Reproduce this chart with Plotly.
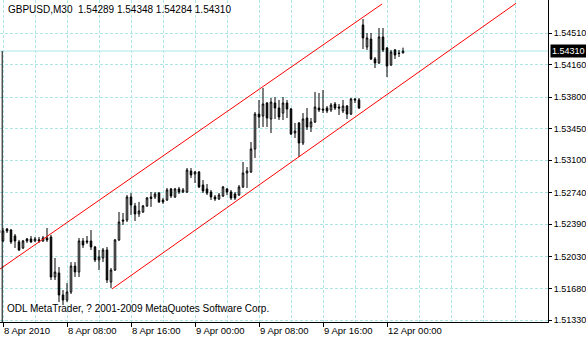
import plotly.graph_objects as go

# ---- data (bar index: 0 = 8 Apr 2010 00:00, M30 bars) ----
bar_index = list(range(-1, 101))
opens = [1.52294, 1.52206, 1.52338, 1.52327, 1.52261, 1.52195, 1.52128, 1.52228, 1.52228, 1.52206,
         1.52206, 1.52206, 1.52239, 1.52250, 1.51806, 1.51851, 1.51607, 1.51551, 1.51640, 1.51928,
         1.51862, 1.52206, 1.52206, 1.52206, 1.52139, 1.51995, 1.52017, 1.52106, 1.51751, 1.51884,
         1.52217, 1.52438, 1.52438, 1.52693, 1.52594, 1.52505, 1.52527, 1.52594, 1.52693, 1.52693,
         1.52737, 1.52660, 1.52660, 1.52782, 1.52693, 1.52782, 1.52748, 1.52748, 1.52981, 1.52948,
         1.52970, 1.52826, 1.52782, 1.52748, 1.52693, 1.52671, 1.52704, 1.52782, 1.52748, 1.52726,
         1.52715, 1.52804, 1.52959, 1.52970, 1.53225, 1.53612, 1.53590, 1.53734, 1.53557, 1.53734,
         1.53679, 1.53623, 1.53734, 1.53668, 1.53402, 1.53513, 1.53291, 1.53568, 1.53468, 1.53524,
         1.53679, 1.53668, 1.53679, 1.53657, 1.53723, 1.53690, 1.53646, 1.53701, 1.53612, 1.53779,
         1.53768, 1.54599, 1.54355, 1.54443, 1.54222, 1.54178, 1.54466, 1.54344, 1.54156, 1.54322,
         1.54288, 1.54289]
highs = [1.52349, 1.52349, 1.52349, 1.52338, 1.52283, 1.52217, 1.52217, 1.52239, 1.52261, 1.52250,
         1.52250, 1.52261, 1.52349, 1.52272, 1.52017, 1.51917, 1.51662, 1.51740, 1.51972, 1.51972,
         1.52239, 1.52239, 1.52261, 1.52327, 1.52150, 1.52106, 1.52128, 1.52139, 1.51906, 1.52228,
         1.52527, 1.52516, 1.52715, 1.52737, 1.52627, 1.52638, 1.52605, 1.52693, 1.52748, 1.52748,
         1.52748, 1.52682, 1.52793, 1.52793, 1.52793, 1.52804, 1.52793, 1.53014, 1.53014, 1.52981,
         1.52981, 1.52881, 1.52837, 1.52771, 1.52715, 1.52737, 1.52815, 1.52793, 1.52771, 1.52748,
         1.52826, 1.53081, 1.53025, 1.53302, 1.53635, 1.53768, 1.53901, 1.53745, 1.53790, 1.53801,
         1.53768, 1.53801, 1.53768, 1.53679, 1.53513, 1.53524, 1.53623, 1.53679, 1.53568, 1.53856,
         1.53845, 1.53878, 1.53701, 1.53734, 1.53745, 1.53723, 1.53768, 1.53712, 1.53790, 1.53790,
         1.53790, 1.54665, 1.54510, 1.54510, 1.54244, 1.54565, 1.54565, 1.54355, 1.54322, 1.54333,
         1.54322, 1.54348]
lows = [1.52261, 1.52195, 1.52294, 1.52173, 1.52128, 1.52095, 1.52117, 1.52184, 1.52184, 1.52195,
        1.52184, 1.52195, 1.52195, 1.51773, 1.51773, 1.51529, 1.51496, 1.51529, 1.51618, 1.51806,
        1.51806, 1.52128, 1.52173, 1.52106, 1.51972, 1.51884, 1.51972, 1.51740, 1.51685, 1.51873,
        1.52206, 1.52383, 1.52416, 1.52494, 1.52427, 1.52472, 1.52516, 1.52583, 1.52583, 1.52671,
        1.52627, 1.52616, 1.52649, 1.52682, 1.52682, 1.52726, 1.52737, 1.52737, 1.52903, 1.52848,
        1.52793, 1.52737, 1.52715, 1.52660, 1.52649, 1.52660, 1.52693, 1.52715, 1.52660, 1.52660,
        1.52704, 1.52793, 1.52793, 1.52959, 1.53125, 1.53457, 1.53468, 1.53468, 1.53402, 1.53557,
        1.53546, 1.53546, 1.53568, 1.53380, 1.53347, 1.53136, 1.53269, 1.53435, 1.53413, 1.53513,
        1.53635, 1.53623, 1.53623, 1.53635, 1.53657, 1.53601, 1.53623, 1.53557, 1.53601, 1.53734,
        1.53668, 1.54333, 1.54322, 1.54211, 1.54122, 1.54167, 1.54299, 1.54022, 1.54144, 1.54222,
        1.54244, 1.54284]
closes = [1.52327, 1.52316, 1.52316, 1.52195, 1.52206, 1.52106, 1.52206, 1.52206, 1.52195, 1.52228,
          1.52217, 1.52239, 1.52217, 1.51806, 1.51862, 1.51607, 1.51551, 1.51640, 1.51928, 1.51862,
          1.52206, 1.52161, 1.52195, 1.52139, 1.51995, 1.52028, 1.52106, 1.51773, 1.51884, 1.52217,
          1.52416, 1.52427, 1.52693, 1.52605, 1.52505, 1.52538, 1.52594, 1.52682, 1.52676, 1.52726,
          1.52638, 1.52638, 1.52771, 1.52704, 1.52782, 1.52748, 1.52771, 1.52992, 1.52937, 1.52970,
          1.52804, 1.52760, 1.52737, 1.52693, 1.52671, 1.52715, 1.52804, 1.52748, 1.52682, 1.52682,
          1.52804, 1.52959, 1.52981, 1.53225, 1.53612, 1.53579, 1.53723, 1.53568, 1.53745, 1.53679,
          1.53579, 1.53734, 1.53668, 1.53391, 1.53424, 1.53291, 1.53557, 1.53468, 1.53524, 1.53690,
          1.53657, 1.53657, 1.53646, 1.53712, 1.53679, 1.53679, 1.53701, 1.53612, 1.53779, 1.53768,
          1.53679, 1.54455, 1.54455, 1.54222, 1.54178, 1.54466, 1.54322, 1.54144, 1.54299, 1.54266,
          1.54283, 1.54310]

# time-axis labels (every 16 bars) and price-axis labels
time_tick_index = [0, 16, 32, 48, 64, 80, 96]
time_tick_text = ["8 Apr 2010", "8 Apr 08:00", "8 Apr 16:00", "9 Apr 00:00",
                  "9 Apr 08:00", "9 Apr 16:00", "12 Apr 00:00"]
price_ticks = [1.51330, 1.51680, 1.52030, 1.52390, 1.52740, 1.53100,
               1.53450, 1.53800, 1.54160, 1.54510]
price_tick_text = ["1.51330", "1.51680", "1.52030", "1.52390", "1.52740", "1.53100",
                   "1.53450", "1.53800", "1.54160", "1.54510"]

# equidistant channel lines (bar index, price)
channel_upper_index = [-0.75, 94.75]
channel_upper_price = [1.51895, 1.54831]
channel_lower_index = [27.25, 128.25]
channel_lower_price = [1.51674, 1.54839]

symbol = "GBPUSD,M30"
copyright_text = "ODL MetaTrader, ? 2001-2009 MetaQuotes Software Corp."

# ---- figure ----
GRID = "#aee6e6"
FONT = "Liberation Sans"
X_RANGE = [-0.75, 136.25]
Y_RANGE = [1.513078, 1.548756]

fig = go.Figure()

fig.add_trace(go.Candlestick(
    x=bar_index, open=opens, high=highs, low=lows, close=closes,
    increasing=dict(line=dict(color="black", width=1), fillcolor="white"),
    decreasing=dict(line=dict(color="black", width=1), fillcolor="black"),
    whiskerwidth=0, showlegend=False, hoverinfo="skip",
))

fig.add_trace(go.Scatter(x=channel_upper_index, y=channel_upper_price, mode="lines",
                         line=dict(color="red", width=1), showlegend=False, hoverinfo="skip"))
fig.add_trace(go.Scatter(x=channel_lower_index, y=channel_lower_price, mode="lines",
                         line=dict(color="red", width=1), showlegend=False, hoverinfo="skip"))

last_bid = closes[-1]

shapes = [
    # bid line
    dict(type="line", xref="paper", x0=0, x1=1, yref="y", y0=last_bid, y1=last_bid,
         line=dict(color=GRID, width=1), layer="below"),
    # left vertical separator
    dict(type="line", xref="x", x0=-0.2, x1=-0.2, yref="y", y0=Y_RANGE[0], y1=last_bid,
         line=dict(color="black", width=1)),
]

annotations = [
    dict(text=f"{symbol}  {opens[-1]:.5f} {highs[-1]:.5f} {lows[-1]:.5f} {closes[-1]:.5f}",
         xref="paper", yref="paper", x=6 / 548, y=1 - 2 / 322, xanchor="left", yanchor="top",
         showarrow=False, font=dict(family=FONT, size=10, color="black")),
    dict(text=copyright_text, xref="paper", yref="paper", x=5 / 548, y=14 / 322,
         xanchor="left", yanchor="middle", showarrow=False,
         font=dict(family=FONT, size=10, color="black")),
    dict(text=f"{last_bid:.5f}", xref="paper", yref="y", x=1 + 2 / 548, y=last_bid,
         xanchor="left", yanchor="middle", showarrow=False, bgcolor="black", borderpad=1,
         font=dict(family=FONT, size=9, color="white")),
]

fig.update_layout(
    width=586, height=340, autosize=False,
    margin=dict(l=0, r=38, t=0, b=18, pad=0),
    paper_bgcolor="white", plot_bgcolor="white",
    boxgap=0.45,
    showlegend=False,
    shapes=shapes, annotations=annotations,
    xaxis=dict(
        range=X_RANGE, rangeslider=dict(visible=False),
        tickmode="array", tickvals=time_tick_index, ticktext=time_tick_text,
        ticks="outside", ticklen=4, tickcolor="black", tickwidth=1,
        ticklabelposition="outside right",
        tickfont=dict(family=FONT, size=9.5, color="black"),
        showline=True, linecolor="black", linewidth=1, mirror=False,
        showgrid=True, gridcolor=GRID, griddash="3px,2px", gridwidth=1,
        minor=dict(tickmode="linear", tick0=0, dtick=8, showgrid=True, gridcolor=GRID,
                   griddash="3px,2px", ticks=""),
        zeroline=False, fixedrange=True, automargin=False,
    ),
    yaxis=dict(
        range=Y_RANGE, side="right",
        tickmode="array", tickvals=price_ticks, ticktext=price_tick_text,
        ticks="outside", ticklen=3, tickcolor="black", tickwidth=1,
        ticklabelstandoff=0,
        tickfont=dict(family=FONT, size=9, color="black"),
        showline=True, linecolor="black", linewidth=1,
        showgrid=True, gridcolor=GRID, griddash="3px,2px", gridwidth=1,
        zeroline=False, fixedrange=True, automargin=False,
    ),
)

fig.write_html("out.html")
